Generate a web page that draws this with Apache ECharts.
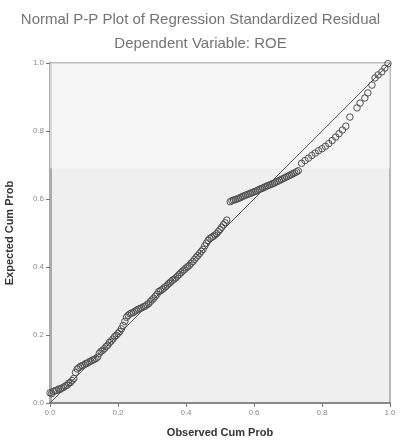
<!DOCTYPE html>
<html><head><meta charset="utf-8">
<script src="https://cdn.jsdelivr.net/npm/echarts@6/dist/echarts.min.js"></script>
<style>html,body{margin:0;padding:0;background:#fff}#c{width:401px;height:444px}</style>
</head><body><div id="c"></div>
<script>
const titleText = "Normal P-P Plot of Regression Standardized Residual";
const subtitleText = "Dependent Variable: ROE";
const xName = "Observed Cum Prob";
const yName = "Expected Cum Prob";
const tickValues = [0.0, 0.2, 0.4, 0.6, 0.8, 1.0];
const observed = [
0.000,0.005,0.010,0.015,0.020,0.025,0.030,0.035,0.040,0.045,0.050,0.055,0.060,0.065,0.070,0.075,0.080,0.085,0.090,0.095,
0.100,0.105,0.110,0.115,0.120,0.125,0.130,0.135,0.140,0.145,0.150,0.155,0.160,0.165,0.170,0.175,0.180,0.185,0.190,0.195,
0.200,0.205,0.210,0.215,0.220,0.225,0.230,0.235,0.240,0.245,0.250,0.255,0.260,0.265,0.270,0.275,0.280,0.285,0.290,0.295,
0.300,0.305,0.310,0.315,0.320,0.325,0.330,0.335,0.340,0.345,0.350,0.355,0.360,0.365,0.370,0.375,0.380,0.385,0.390,0.395,
0.400,0.405,0.410,0.415,0.420,0.425,0.430,0.435,0.440,0.445,0.450,0.455,0.460,0.465,0.470,0.475,0.480,0.485,0.490,0.495,
0.500,0.505,0.510,0.515,0.520,
0.530,0.535,0.540,0.545,0.550,0.555,0.560,0.565,0.570,0.575,0.580,0.585,0.590,0.595,0.600,0.605,0.610,0.615,0.620,0.625,
0.630,0.635,0.640,0.645,0.650,0.655,0.660,0.665,0.670,0.675,0.680,0.685,0.690,0.695,0.700,0.705,0.710,0.715,0.720,0.725,0.730,
0.74,0.75,0.76,0.77,0.78,0.79,0.80,0.81,0.82,0.83,0.84,0.85,0.86,0.87,
0.882,0.903,0.912,0.926,0.935,0.947,0.956,0.965,0.976,0.985,0.994];
const expected = [
0.030,0.028,0.034,0.036,0.037,0.041,0.040,0.044,0.046,0.050,0.052,0.058,0.060,0.066,0.072,0.090,0.100,0.104,0.108,0.110,
0.112,0.116,0.117,0.121,0.123,0.126,0.128,0.131,0.135,0.146,0.152,0.155,0.160,0.166,0.170,0.178,0.182,0.188,0.195,0.199,
0.205,0.210,0.218,0.228,0.240,0.252,0.258,0.262,0.265,0.266,0.270,0.273,0.276,0.278,0.280,0.283,0.285,0.289,0.292,0.298,
0.303,0.308,0.314,0.320,0.328,0.330,0.334,0.338,0.342,0.347,0.352,0.356,0.361,0.364,0.368,0.373,0.378,0.383,0.388,0.392,
0.397,0.401,0.405,0.411,0.416,0.422,0.428,0.434,0.440,0.446,0.452,0.462,0.470,0.478,0.484,0.487,0.490,0.494,0.498,0.504,
0.510,0.517,0.524,0.530,0.538,
0.592,0.595,0.597,0.598,0.600,0.602,0.604,0.607,0.609,0.611,0.613,0.615,0.617,0.619,0.621,0.623,0.625,0.628,0.630,0.632,
0.634,0.637,0.639,0.641,0.643,0.645,0.647,0.650,0.652,0.655,0.657,0.660,0.662,0.665,0.667,0.670,0.672,0.675,0.677,0.680,0.683,
0.705,0.713,0.720,0.728,0.735,0.742,0.748,0.755,0.763,0.772,0.782,0.792,0.803,0.814,
0.841,0.868,0.882,0.897,0.912,0.935,0.956,0.965,0.974,0.985,0.998];
const refLine = [[0,0],[1,1]];

const pts = observed.map((o,i)=>[o, expected[i]]);
const chart = echarts.init(document.getElementById('c'));
const lbl = {color:'#8a8a8a', fontSize:8, fontFamily:'Liberation Sans'};
chart.setOption({
  animation:false,
  backgroundColor:'#ffffff',
  title:[
    {text:titleText, left:'center', top:7, textStyle:{fontFamily:'Liberation Sans', fontSize:15, fontWeight:'normal', color:'#747474'}},
    {text:subtitleText, left:'center', top:31, textStyle:{fontFamily:'Liberation Sans', fontSize:15, fontWeight:'normal', color:'#747474'}}
  ],
  grid:{left:50, right:11, top:63, bottom:41, containLabel:false, outerBoundsMode:'none', show:true, backgroundColor:'#efefef', borderColor:'#777', borderWidth:1},
  xAxis:{type:'value', min:0, max:1, interval:0.2,
    name:xName, nameLocation:'middle', nameGap:24,
    nameTextStyle:{fontFamily:'Liberation Sans', fontSize:11, fontWeight:'bold', color:'#333'},
    axisLine:{show:true, lineStyle:{color:'#888', width:2}},
    axisTick:{show:true, length:4, lineStyle:{color:'#777'}},
    splitLine:{show:false},
    axisLabel:Object.assign({margin:6, formatter:v=>v.toFixed(1)}, lbl)},
  yAxis:{type:'value', min:0, max:1, interval:0.2,
    name:yName, nameLocation:'middle', nameGap:35,
    nameTextStyle:{fontFamily:'Liberation Sans', fontSize:11, fontWeight:'bold', color:'#333'},
    axisLine:{show:true, lineStyle:{color:'#aaa', width:3}},
    axisTick:{show:true, length:4, lineStyle:{color:'#777'}},
    splitLine:{show:false},
    axisLabel:Object.assign({margin:6, formatter:v=>v.toFixed(1)}, lbl)},
  series:[
    {type:'line', data:refLine, symbol:'none', lineStyle:{color:'#555', width:1}, z:3,
     markArea:{silent:true, itemStyle:{color:'rgba(250,252,250,0.55)'}, data:[[{yAxis:0.69},{yAxis:1}]]}},
    {type:'scatter', data:pts, symbol:'circle', symbolSize:6.5,
     itemStyle:{color:'rgba(0,0,0,0)', borderColor:'#505050', borderWidth:1, opacity:1}, z:4}
  ]
});
</script></body></html>
